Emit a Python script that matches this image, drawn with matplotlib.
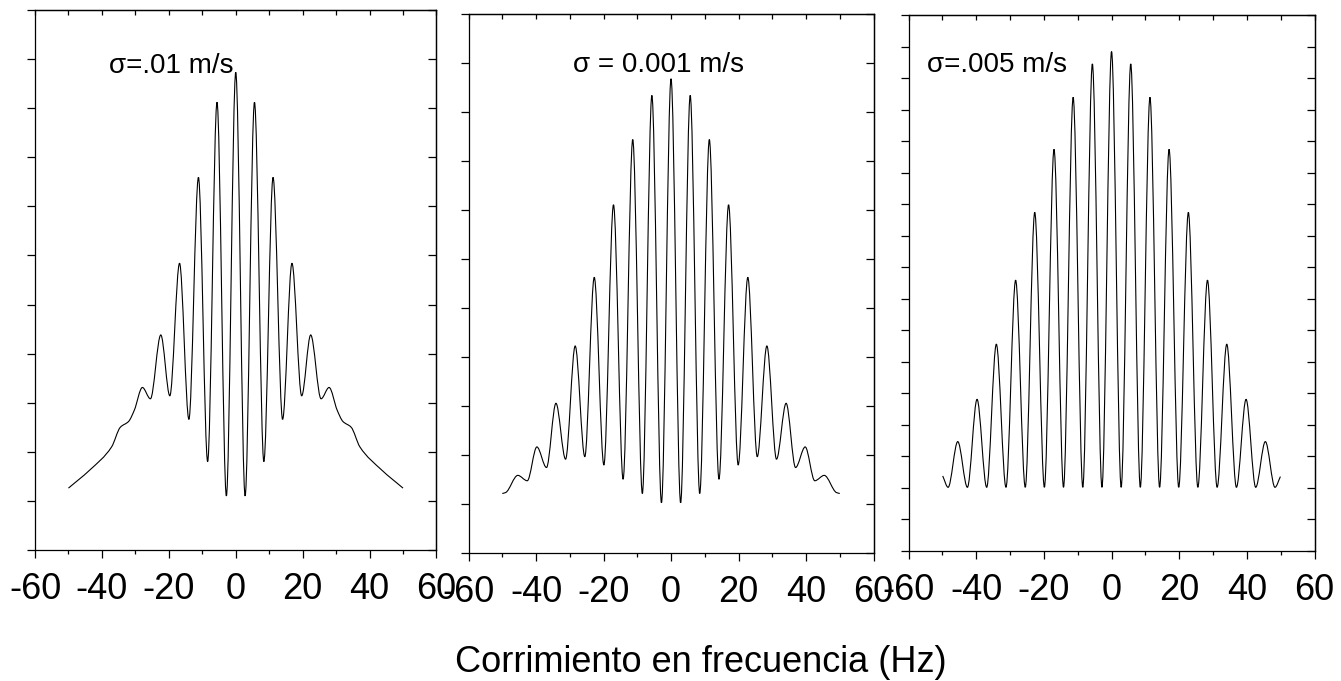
import numpy as np
import matplotlib
matplotlib.use("Agg")
import matplotlib.pyplot as plt
from matplotlib.path import Path
from matplotlib.patches import PathPatch
from matplotlib.ticker import MultipleLocator

plt.rcParams['font.family'] = ['Liberation Sans', 'DejaVu Sans']
plt.rcParams['axes.unicode_minus'] = False

# puntos (maximos, minimos y algunos puntos de la cola)
x_01 = [-50.0, -43.6, -37.1, -34.5, -32.0, -30.3, -27.9, -25.5, -22.4, -19.7, -16.8,
        -14.0, -11.15, -8.4, -5.6, -2.8, 0.0, 2.8, 5.6, 8.4, 11.15, 14.0, 16.8, 19.7,
        22.4, 25.5, 27.9, 30.3, 32.0, 34.5, 37.1, 43.6, 50.0]
y_01 = [1.26, 1.63, 2.10, 2.50, 2.62, 2.85, 3.31, 3.08, 4.38, 3.14, 5.84,
        2.66, 7.59, 1.80, 9.12, 1.10, 9.73, 1.10, 9.12, 1.80, 7.59, 2.66, 5.84, 3.14,
        4.38, 3.08, 3.31, 2.85, 2.62, 2.50, 2.10, 1.63, 1.26]

x_001 = [-50.0, -49.0, -45.4, -42.6, -39.75, -36.9, -34.1, -31.25, -28.4, -25.55, -22.75,
         -19.9, -17.05, -14.2, -11.35, -8.5, -5.68, -2.84, 0.0, 2.84, 5.68, 8.5, 11.35,
         14.2, 17.05, 19.9, 22.75, 25.55, 28.4, 31.25, 34.1, 36.9, 39.75, 42.6, 45.4,
         49.0, 50.0]
y_001 = [1.22, 1.24, 1.59, 1.48, 2.17, 1.75, 3.06, 1.92, 4.23, 1.97, 5.63,
         1.80, 7.11, 1.51, 8.44, 1.22, 9.34, 1.03, 9.68, 1.03, 9.34, 1.22, 8.44,
         1.51, 7.11, 1.80, 5.63, 1.97, 4.23, 1.92, 3.06, 1.75, 2.17, 1.48, 1.59,
         1.24, 1.22]

x_005 = [-49.9, -48.3, -45.45, -42.6, -39.75, -36.9, -34.05, -31.2, -28.35, -25.5, -22.7,
         -19.85, -17.0, -14.2, -11.35, -8.5, -5.67, -2.84, 0.0, 2.84, 5.67, 8.5, 11.35,
         14.2, 17.0, 19.85, 22.7, 25.5, 28.35, 31.2, 34.05, 36.9, 39.75, 42.6, 45.45,
         48.3, 49.9]
y_005 = [2.38, 2.02, 3.47, 2.02, 4.81, 2.02, 6.56, 2.02, 8.59, 2.02, 10.74,
         2.02, 12.74, 2.02, 14.39, 2.02, 15.45, 2.02, 15.84, 2.02, 15.45, 2.02, 14.39,
         2.02, 12.74, 2.02, 10.74, 2.02, 8.59, 2.02, 6.56, 2.02, 4.81, 2.02, 3.47,
         2.02, 2.36]

etiquetas = ['σ=.01 m/s', 'σ = 0.001 m/s', 'σ=.005 m/s']


def curva(xs, ys):
    # une los puntos con tramos de Bezier (pendiente nula en los extremos locales)
    xs = np.asarray(xs, float)
    ys = np.asarray(ys, float)
    h = np.diff(xs)
    d = np.diff(ys) / h
    n = len(xs)
    m = np.zeros(n)
    for i in range(1, n - 1):
        if d[i - 1] * d[i] > 0:
            w1 = 2 * h[i] + h[i - 1]
            w2 = h[i] + 2 * h[i - 1]
            m[i] = (w1 + w2) / (w1 / d[i - 1] + w2 / d[i])
    m[0] = d[0]
    m[-1] = d[-1]
    verts = [(xs[0], ys[0])]
    codes = [Path.MOVETO]
    for i in range(n - 1):
        verts += [(xs[i] + h[i] / 3, ys[i] + m[i] * h[i] / 3),
                  (xs[i + 1] - h[i] / 3, ys[i + 1] - m[i + 1] * h[i] / 3),
                  (xs[i + 1], ys[i + 1])]
        codes += [Path.CURVE4] * 3
    return Path(verts, codes)


fig = plt.figure(figsize=(13.41, 6.81), dpi=100)

posiciones = [[0.0261, 0.1924, 0.2994, 0.7930],
              [0.3494, 0.1875, 0.3020, 0.7919],
              [0.6775, 0.1909, 0.3028, 0.7871]]
datos = [(x_01, y_01, 11), (x_001, y_001, 11), (x_005, y_005, 17)]
texto_pos = [(0.184, 0.883), (0.258, 0.892), (0.046, 0.894)]

for pos, (xs, ys, ymax), lab, tp in zip(posiciones, datos, etiquetas, texto_pos):
    ax = fig.add_axes(pos)
    ax.add_patch(PathPatch(curva(xs, ys), fill=False, lw=0.8, ec='black'))
    ax.set_xlim(-60, 60)
    ax.set_ylim(0, ymax)
    ax.set_xticks(range(-60, 61, 20))
    ax.xaxis.set_minor_locator(MultipleLocator(10))
    ax.set_yticks(range(0, ymax + 1))
    ax.tick_params(axis='x', which='major', direction='out', length=5.8, width=0.9,
                   labelsize=26, pad=10)
    ax.tick_params(axis='x', which='minor', direction='out', length=3, width=0.9)
    ax.tick_params(axis='y', direction='out', length=5.8, width=0.9, labelleft=False)
    for s in ax.spines.values():
        s.set_linewidth(0.9)

    arriba = ax.secondary_xaxis('top')
    arriba.set_xticks(range(-60, 61, 20))
    arriba.xaxis.set_minor_locator(MultipleLocator(10))
    arriba.tick_params(which='both', direction='in', length=3.6, width=0.9, labeltop=False)
    arriba.spines['top'].set_linewidth(0.9)

    derecha = ax.secondary_yaxis('right')
    derecha.set_yticks(range(0, ymax + 1))
    derecha.tick_params(direction='in', length=5.5, width=0.9, labelright=False)
    derecha.spines['right'].set_linewidth(0.9)

    ax.text(tp[0], tp[1], lab, transform=ax.transAxes, fontsize=20,
            ha='left', va='baseline')

fig.text(455 / 1341, 9 / 681, 'Corrimiento en frecuencia (Hz)', fontsize=26,
         ha='left', va='baseline')

fig.savefig('out.png', dpi=100)
